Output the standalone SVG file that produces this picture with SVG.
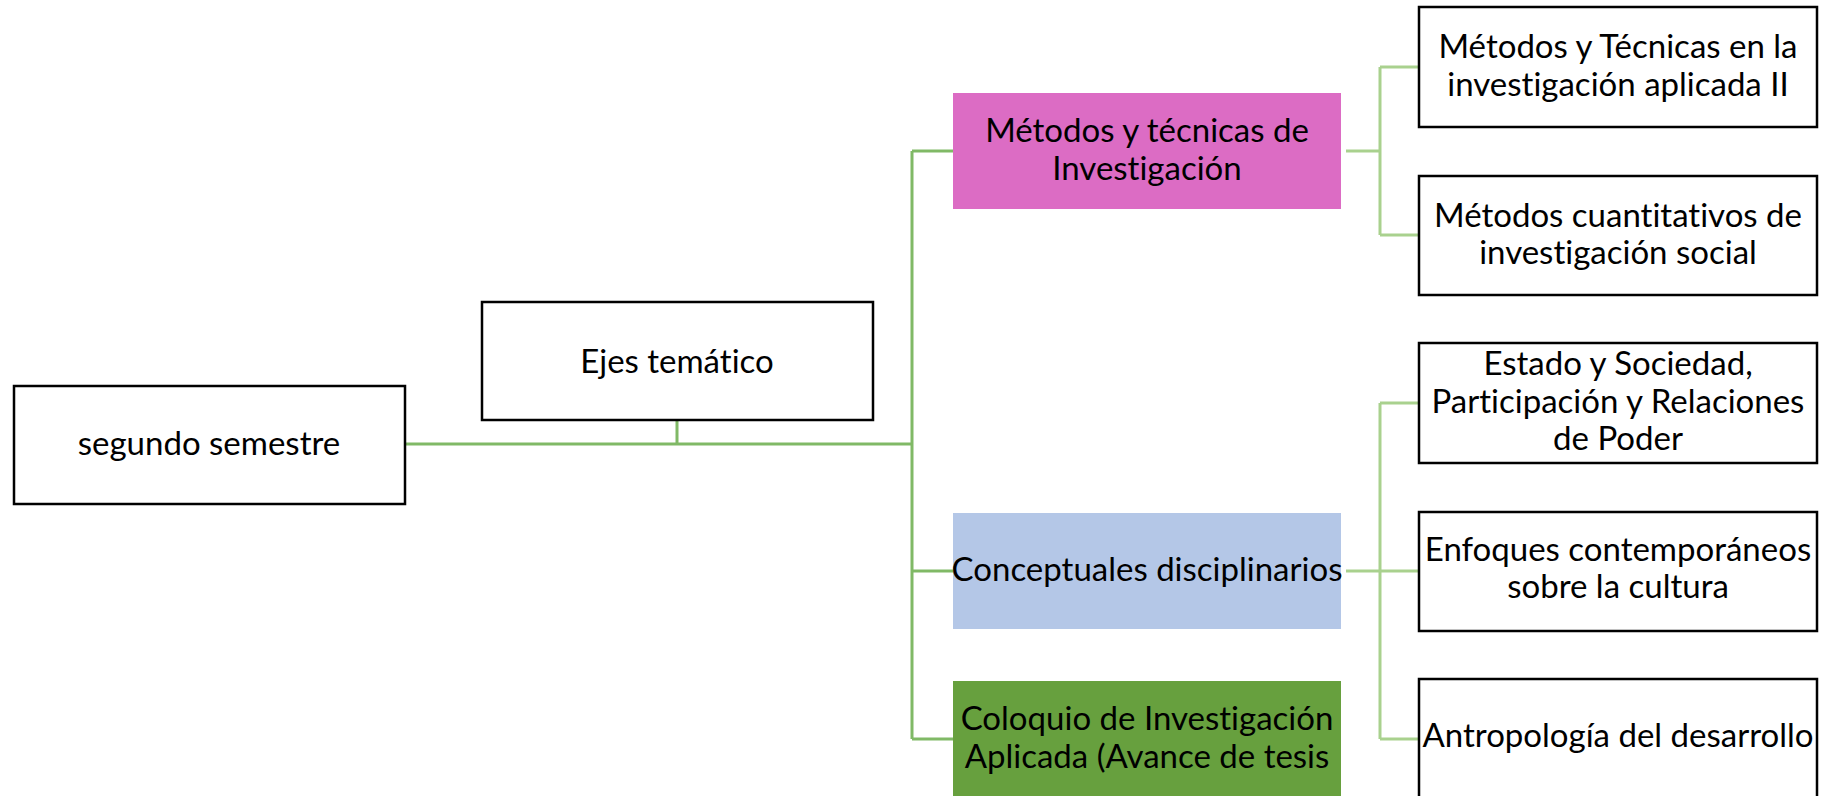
<svg xmlns="http://www.w3.org/2000/svg" width="1822" height="796" viewBox="0 0 1822 796">
<style>
.t{font-family:Lato,"Open Sans","Liberation Sans",sans-serif;font-size:33px;fill:#000;text-anchor:middle;font-variant-ligatures:none;font-feature-settings:"liga" 0,"clig" 0}
.box{fill:#fff;stroke:#000;stroke-width:2.5}
.c1{fill:none;stroke:#80B966;stroke-width:3}
.c2{fill:none;stroke:#A9D18E;stroke-width:3}
</style>
<rect width="1822" height="796" fill="#fff"/>
<g id="connectors">
<path class="c1" d="M405 444H912M677 419V444M912 151V739M912 151H953M912 571H953M912 739H953"/>
<path class="c2" d="M1346 151H1380M1380 67V235M1380 67H1419M1380 235H1419"/>
<path class="c2" d="M1346 571H1380M1380 403V739M1380 403H1419M1380 571H1419M1380 739H1419"/>
</g>
<g id="n-segundo">
<rect class="box" x="14" y="386" width="391" height="118"/>
<text class="t" x="209" y="455">segundo semestre</text>
</g>
<g id="n-ejes">
<rect class="box" x="482" y="302" width="391" height="118"/>
<text class="t" x="677" y="373">Ejes temático</text>
</g>
<g id="n-metodos">
<rect x="953" y="93" width="388" height="116" fill="#DC6CC4"/>
<text class="t" x="1147" y="142">Métodos y técnicas de</text>
<text class="t" x="1147" y="180">Investigación</text>
</g>
<g id="n-conceptuales">
<rect x="953" y="513" width="388" height="116" fill="#B4C7E7"/>
<text class="t" x="1147" y="581">Conceptuales disciplinarios</text>
</g>
<g id="n-coloquio">
<rect x="953" y="681" width="388" height="120" fill="#67A03E"/>
<text class="t" x="1147" y="730">Coloquio de Investigación</text>
<text class="t" x="1147" y="768">Aplicada (Avance de tesis</text>
</g>
<g id="n-mt2">
<rect class="box" x="1419" y="7" width="398" height="120"/>
<text class="t" x="1618" y="58">Métodos y Técnicas en la</text>
<text class="t" x="1618" y="96">investigación aplicada II</text>
</g>
<g id="n-mcuant">
<rect class="box" x="1419" y="176" width="398" height="119"/>
<text class="t" x="1618" y="227">Métodos cuantitativos de</text>
<text class="t" x="1618" y="264">investigación social</text>
</g>
<g id="n-estado">
<rect class="box" x="1419" y="343" width="398" height="120"/>
<text class="t" x="1618" y="375">Estado y Sociedad,</text>
<text class="t" x="1618" y="413">Participación y Relaciones</text>
<text class="t" x="1618" y="450">de Poder</text>
</g>
<g id="n-enfoques">
<rect class="box" x="1419" y="512" width="398" height="119"/>
<text class="t" x="1618" y="561">Enfoques contemporáneos</text>
<text class="t" x="1618" y="598">sobre la cultura</text>
</g>
<g id="n-antro">
<rect class="box" x="1419" y="679" width="398" height="125"/>
<text class="t" x="1618" y="747">Antropología del desarrollo</text>
</g>
</svg>
